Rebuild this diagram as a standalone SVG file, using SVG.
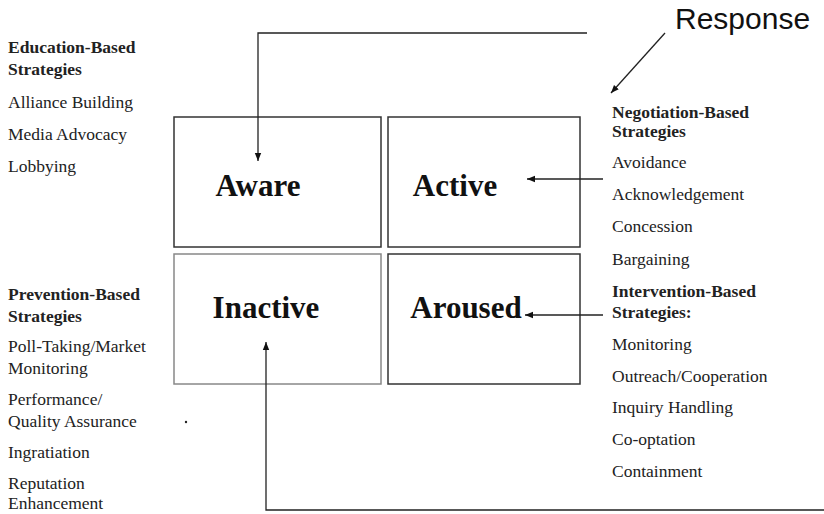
<svg xmlns="http://www.w3.org/2000/svg" width="824" height="514" viewBox="0 0 824 514">
<style>
.box{fill:none;stroke:#333;stroke-width:1.5}
.lbl{font-family:"Liberation Serif","Times New Roman",serif;font-weight:bold;font-size:31px;fill:#111;text-anchor:middle}
.t{font-family:"Liberation Serif","Times New Roman",serif;font-size:17.5px;fill:#222}
.h{font-family:"Liberation Serif","Times New Roman",serif;font-size:17.5px;font-weight:bold;fill:#222}
.c{fill:none;stroke:#222;stroke-width:1.3}
</style>
<defs>
<marker id="ah" viewBox="0 0 10 10" refX="10" refY="5" markerWidth="8" markerHeight="8" markerUnits="userSpaceOnUse" orient="auto">
<path d="M0,1 L10,5 L0,9 z" fill="#111"/>
</marker>
</defs>
<rect width="824" height="514" fill="#fff"/>
<g id="aware"><rect class="box" x="174" y="117" width="207" height="130"/><text class="lbl" x="258" y="196">Aware</text></g>
<g id="active"><rect class="box" x="388" y="117" width="192" height="130"/><text class="lbl" x="455" y="196">Active</text></g>
<g id="inactive"><rect class="box" x="174" y="254" width="207" height="130" style="stroke:#888"/><text class="lbl" x="266" y="318">Inactive</text></g>
<g id="aroused"><rect class="box" x="388" y="254" width="192" height="130"/><text class="lbl" x="466" y="318">Aroused</text></g>
<g id="connectors">
<path class="c" d="M587,33 H258 V161" marker-end="url(#ah)"/>
<path class="c" d="M824,510 H266 V342" marker-end="url(#ah)"/>
<path class="c" d="M665,33 L611,93" marker-end="url(#ah)"/>
<path class="c" d="M603,179 H527" marker-end="url(#ah)"/>
<path class="c" d="M603,315 H525" marker-end="url(#ah)"/>
</g>
<g id="response"><text x="675" y="29" font-family="'Liberation Sans',Arial,sans-serif" font-size="30" fill="#111">Response</text></g>
<g id="education">
<text class="h" x="8" y="53">Education-Based</text>
<text class="h" x="8" y="75">Strategies</text>
<text class="t" x="8" y="108">Alliance Building</text>
<text class="t" x="8" y="140">Media Advocacy</text>
<text class="t" x="8" y="172">Lobbying</text>
</g>
<g id="prevention">
<text class="h" x="8" y="300">Prevention-Based</text>
<text class="h" x="8" y="322">Strategies</text>
<text class="t" x="8" y="352">Poll-Taking/Market</text>
<text class="t" x="8" y="374">Monitoring</text>
<text class="t" x="8" y="405">Performance/</text>
<text class="t" x="8" y="427">Quality Assurance</text>
<text class="t" x="8" y="458">Ingratiation</text>
<text class="t" x="8" y="489">Reputation</text>
<text class="t" x="8" y="509">Enhancement</text>
</g>
<g id="negotiation">
<text class="h" x="612" y="118">Negotiation-Based</text>
<text class="h" x="612" y="137">Strategies</text>
<text class="t" x="612" y="168">Avoidance</text>
<text class="t" x="612" y="200">Acknowledgement</text>
<text class="t" x="612" y="232">Concession</text>
<text class="t" x="612" y="265">Bargaining</text>
</g>
<g id="intervention">
<text class="h" x="612" y="297">Intervention-Based</text>
<text class="h" x="612" y="318">Strategies:</text>
<text class="t" x="612" y="350">Monitoring</text>
<text class="t" x="612" y="382">Outreach/Cooperation</text>
<text class="t" x="612" y="413">Inquiry Handling</text>
<text class="t" x="612" y="445">Co-optation</text>
<text class="t" x="612" y="477">Containment</text>
</g>
<circle cx="186" cy="422" r="1.2" fill="#222"/>
</svg>
